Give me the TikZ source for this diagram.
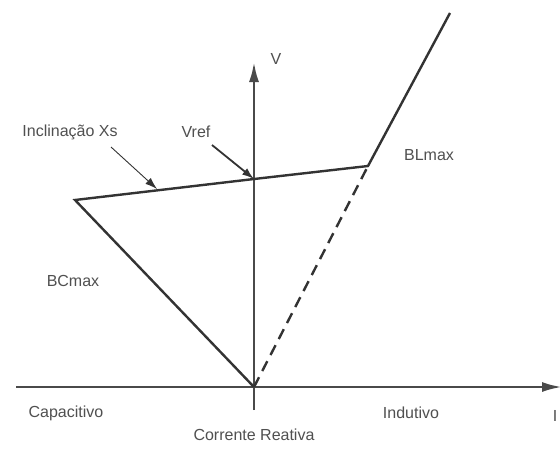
\documentclass[tikz,border=0pt]{standalone}
\usepackage{fontspec}
\setmainfont{Liberation Sans}
\usetikzlibrary{arrows.meta}
\definecolor{ink}{HTML}{333333}
\definecolor{axisgray}{HTML}{4A4A4A}
\definecolor{txt}{HTML}{505050}
\begin{document}
\begin{tikzpicture}[x=1pt,y=-1pt,
  axis/.style={draw=axisgray,line width=2.6pt,-{Latex[length=20pt,width=10pt]}},
  curve/.style={draw=ink,line width=2.4pt,line join=miter},
  pointer/.style={draw=ink,-{Latex[length=12pt,width=8pt]}},
  lbl/.style={text=txt,font=\fontsize{16}{18}\selectfont,inner sep=0pt}]
\useasboundingbox[fill=white] (0,0) rectangle (560,450);
% axes
\coordinate (xL) at (16,387);
\coordinate (xR) at (562,387);
\coordinate (yB) at (254,410);
\coordinate (yT) at (254,62);
\draw[axis] (xL) -- (xR);
\draw[axis] (yB) -- (yT);
% characteristic points
\coordinate (O) at (254,387);
\coordinate (A) at (75,200);
\coordinate (R) at (254,179);
\coordinate (K) at (368,166);
\coordinate (T) at (450,13);
\coordinate (Xs) at (157,189);
% V-I characteristic
\draw[curve] (O) -- (A) -- (R) -- (K) -- (T);
\draw[curve,dash pattern=on 11pt off 7pt] (O) -- (K);
% labels
\node[lbl] (v) at (276,59) {V};
\node[lbl] (i) at (555,416) {I};
\node[lbl] (incl) at (70,132) {Inclinação Xs};
\node[lbl] (vref) at (196,132) {Vref};
\node[lbl] (blmax) at (429,155) {BLmax};
\node[lbl] (bcmax) at (73,281) {BCmax};
\node[lbl] (cap) at (66,413) {Capacitivo};
\node[lbl] (ind) at (411,413) {Indutivo};
\node[lbl] (corr) at (254,435) {Corrente Reativa};
% pointers
\coordinate (p1) at (111,147);
\coordinate (p2) at (212,145);
\draw[pointer,line width=0.9pt] (p1) -- (Xs);
\draw[pointer,line width=1.8pt] (p2) -- (R);
\end{tikzpicture}
\end{document}
